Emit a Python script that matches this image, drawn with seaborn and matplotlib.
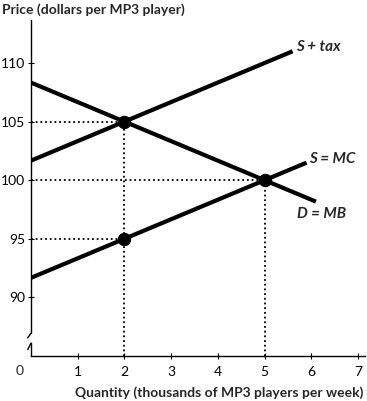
import numpy as np
import pandas as pd
import seaborn as sns
import matplotlib.pyplot as plt
import matplotlib.transforms as mtransforms

# Dados das curvas (extremos)
demand_q = [0, 6.1]
demand_p = [108.33, 98.17]
supply_q = [0, 5.9]
supply_p = [91.67, 101.5]
tax_q = [0, 5.6]
tax_p = [101.67, 111.0]

# Pontos de equilíbrio
eq_q = [2, 5, 2]
eq_p = [105, 100, 95]

x_ticks = [1, 2, 3, 4, 5, 6, 7]
y_ticks = [90, 95, 100, 105, 110]

sns.set_style("white")
plt.rcParams['font.family'] = ['Lato', 'DejaVu Sans']

fig = plt.figure(figsize=(3.67, 4.01), dpi=100)
ax = fig.add_axes([31 / 367, (401 - 356) / 401, (365 - 31) / 367, (356 - 20) / 401])
ax.set_xlim(0, 7.15)
ax.set_ylim(85, 113.67)

# Linhas pontilhadas de referência
dot = dict(color='black', lw=1.3, linestyle=(0, (1, 1.6)), zorder=1)
ax.plot([0, 2], [105, 105], **dot)
ax.plot([0, 5], [100, 100], **dot)
ax.plot([0, 2], [95, 95], **dot)
ax.plot([2, 2], [85, 105], **dot)
ax.plot([5, 5], [85, 100], **dot)

# Curvas
curvas = pd.DataFrame({
    'q': demand_q + supply_q + tax_q,
    'p': demand_p + supply_p + tax_p,
    'curva': ['D'] * 2 + ['S'] * 2 + ['T'] * 2,
})
sns.lineplot(data=curvas, x='q', y='p', units='curva', estimator=None,
             color='black', lw=3.0, solid_capstyle='butt', ax=ax, zorder=2)

sns.scatterplot(x=eq_q, y=eq_p, s=80, color='black', edgecolor='black',
                ax=ax, zorder=3, clip_on=False)

# Rótulos das curvas
lab = dict(fontsize=11, fontweight='bold', fontstyle='italic', va='center', ha='left')
ax.text(tax_q[1] + 0.08, tax_p[1] + 0.35, 'S + tax', **lab)
ax.text(supply_q[1] + 0.05, supply_p[1] + 0.35, 'S = MC', **lab)
ax.text(5.7, 97.1, 'D = MB', **lab)

# Eixos
for s in ['top', 'right', 'left']:
    ax.spines[s].set_visible(False)
ax.spines['bottom'].set_linewidth(1.0)
ax.spines['bottom'].set_color('black')

# Eixo y com quebra
ax.plot([0, 0], [86.95, 113.67], color='black', lw=1.0, clip_on=False)
ax.plot([0, 0], [85, 86.1], color='black', lw=1.0, clip_on=False)
ax.plot([-0.07, 0], [86.55, 86.95], color='black', lw=1.0, clip_on=False)
ax.plot([-0.07, 0], [85.55, 86.1], color='black', lw=1.0, clip_on=False)

ax.set_xticks(x_ticks)
ax.set_yticks(y_ticks)
ax.tick_params(axis='both', direction='inout', length=5, width=0.8,
               labelsize=10, colors='black', left=True, bottom=True)
ax.tick_params(axis='x', pad=4.5)
ax.tick_params(axis='y', pad=1.5)
ax.set_xlabel('')
ax.set_ylabel('')

trans = mtransforms.blended_transform_factory(ax.transData, fig.transFigure)
ax.text(-0.24, 1 - 371 / 401, '0', transform=trans, fontsize=10,
        ha='center', va='center')

fig.text(2 / 367, 1 - 10 / 401, 'Price (dollars per MP3 player)',
         fontsize=10, fontweight='bold', ha='left', va='center')
fig.text(363 / 367, 1 - 393 / 401, 'Quantity (thousands of MP3 players per week)',
         fontsize=10, fontweight='bold', ha='right', va='center')

fig.savefig('out.png', dpi=100)
